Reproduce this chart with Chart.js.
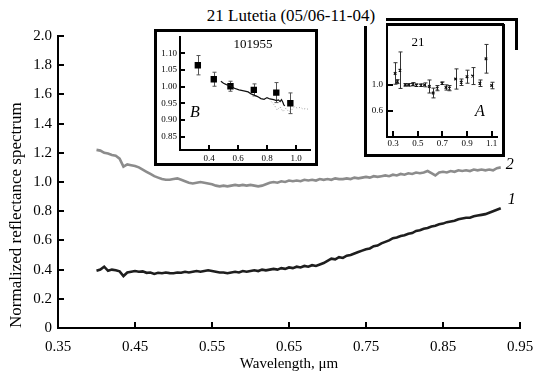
<!DOCTYPE html>
<html>
<head>
<meta charset="utf-8">
<script src="https://cdn.jsdelivr.net/npm/chart.js@4.4.1/dist/chart.umd.min.js"></script>
<style>
    body { margin: 0; background: #fff; }
    #wrap { position: relative; width: 534px; height: 377px; overflow: hidden; }
    canvas { position: absolute; display: block; }
    .line { position: absolute; border: 0 solid #000; }
    #title {
        position: absolute; left: 196px; top: 6px; width: 190px; height: 20px;
        line-height: 20px; text-align: center; background: #fff; z-index: 5;
        font: 17px "Liberation Serif", serif; color: #000; white-space: nowrap;
    }
</style>
</head>
<body>
<div id="wrap">
    <canvas id="mainChart" width="534" height="377" style="left:0;top:0"></canvas>

    <!-- inset B frame -->
    <div class="line" style="left:154px;top:29px;width:158px;height:131px;border-width:3px;background:#fff"></div>
    <canvas id="insetB" width="158" height="131" style="left:157px;top:32px"></canvas>

    <!-- inset A frames -->
    <div class="line" style="left:386px;top:18px;width:129px;height:29px;border-top-width:3px;border-right-width:3px"></div>
    <div class="line" style="left:364px;top:24px;width:135px;height:130px;border-left-width:3px;border-right-width:3px;border-bottom-width:3px;background:#fff"></div>
    <div class="line" style="left:386px;top:23px;width:118px;height:0;border-top-width:3px"></div>
    <canvas id="insetA" width="136" height="133" style="left:367px;top:21px"></canvas>

    <div id="title">21 Lutetia (05/06-11-04)</div>
</div>

<script>
// ---- main spectra (Lutetia) ----
const wavelength = [
    0.400, 0.405, 0.410, 0.415, 0.420, 0.425, 0.430, 0.435, 0.440, 0.445,
    0.450, 0.455, 0.460, 0.465, 0.470, 0.475, 0.480, 0.485, 0.490, 0.495,
    0.500, 0.505, 0.510, 0.515, 0.520, 0.525, 0.530, 0.535, 0.540, 0.545,
    0.550, 0.555, 0.560, 0.565, 0.570, 0.575, 0.580, 0.585, 0.590, 0.595,
    0.600, 0.605, 0.610, 0.615, 0.620, 0.625, 0.630, 0.635, 0.640, 0.645,
    0.650, 0.655, 0.660, 0.665, 0.670, 0.675, 0.680, 0.685, 0.690, 0.695,
    0.700, 0.705, 0.710, 0.715, 0.720, 0.725, 0.730, 0.735, 0.740, 0.745,
    0.750, 0.755, 0.760, 0.765, 0.770, 0.775, 0.780, 0.785, 0.790, 0.795,
    0.800, 0.805, 0.810, 0.815, 0.820, 0.825, 0.830, 0.835, 0.840, 0.845,
    0.850, 0.855, 0.860, 0.865, 0.870, 0.875, 0.880, 0.885, 0.890, 0.895,
    0.900, 0.905, 0.910, 0.915, 0.920, 0.925,
]
const spectrum1 = [
    0.392, 0.400, 0.420, 0.392, 0.400, 0.395, 0.388, 0.356, 0.380, 0.385,
    0.390, 0.385, 0.388, 0.378, 0.380, 0.370, 0.378, 0.375, 0.380, 0.376,
    0.375, 0.380, 0.378, 0.385, 0.380, 0.385, 0.390, 0.385, 0.390, 0.395,
    0.390, 0.385, 0.380, 0.380, 0.375, 0.380, 0.385, 0.380, 0.390, 0.385,
    0.390, 0.395, 0.390, 0.400, 0.395, 0.400, 0.405, 0.400, 0.410, 0.405,
    0.415, 0.410, 0.420, 0.415, 0.425, 0.420, 0.430, 0.425, 0.435, 0.445,
    0.460, 0.475, 0.470, 0.485, 0.480, 0.495, 0.500, 0.510, 0.520, 0.530,
    0.540, 0.545, 0.560, 0.565, 0.580, 0.590, 0.600, 0.615, 0.620, 0.630,
    0.635, 0.645, 0.650, 0.665, 0.670, 0.680, 0.685, 0.695, 0.700, 0.710,
    0.715, 0.725, 0.730, 0.735, 0.745, 0.750, 0.755, 0.755, 0.765, 0.770,
    0.775, 0.780, 0.790, 0.800, 0.810, 0.820,
]
const spectrum2 = [
    1.220, 1.215, 1.200, 1.195, 1.185, 1.180, 1.160, 1.105, 1.120, 1.115,
    1.110, 1.100, 1.085, 1.070, 1.055, 1.040, 1.030, 1.020, 1.015, 1.015,
    1.020, 1.025, 1.015, 1.005, 0.995, 0.990, 0.995, 1.000, 0.995, 0.990,
    0.985, 0.975, 0.970, 0.975, 0.970, 0.975, 0.980, 0.975, 0.980, 0.975,
    0.980, 0.975, 0.970, 0.975, 0.985, 0.995, 1.000, 0.995, 1.005, 1.000,
    1.010, 1.005, 1.010, 1.005, 1.015, 1.010, 1.015, 1.010, 1.020, 1.015,
    1.020, 1.015, 1.025, 1.020, 1.020, 1.025, 1.020, 1.030, 1.025, 1.030,
    1.035, 1.030, 1.040, 1.035, 1.040, 1.045, 1.040, 1.050, 1.045, 1.055,
    1.050, 1.060, 1.055, 1.065, 1.060, 1.065, 1.075, 1.060, 1.045, 1.065,
    1.070, 1.065, 1.075, 1.070, 1.080, 1.075, 1.080, 1.075, 1.085, 1.080,
    1.085, 1.080, 1.085, 1.080, 1.095, 1.100,
]
const xTicks = [0.35, 0.45, 0.55, 0.65, 0.75, 0.85, 0.95]
const yTicks = [0, 0.2, 0.4, 0.6, 0.8, 1.0, 1.2, 1.4, 1.6, 1.8, 2.0]

// ---- inset B: asteroid 101955 ----
const bWave = [0.323, 0.433, 0.548, 0.709, 0.864, 0.961]
const bRefl = [1.064, 1.022, 1.001, 0.990, 0.982, 0.950]
const bErr = [0.029, 0.021, 0.015, 0.018, 0.030, 0.031]
const bLineWave = [0.482, 0.50, 0.52, 0.548, 0.575, 0.607, 0.64, 0.67, 0.69, 0.714, 0.735, 0.758, 0.78, 0.80, 0.82, 0.846, 0.865, 0.879, 0.89, 0.90, 0.91, 0.916, 0.923]
const bLineRefl = [1.016, 1.010, 1.006, 1.003, 0.995, 0.990, 0.987, 0.984, 0.978, 0.974, 0.970, 0.964, 0.962, 0.967, 0.963, 0.961, 0.958, 0.960, 0.955, 0.961, 0.952, 0.945, 0.942]
const bDotWave = [0.83, 0.85, 0.87, 0.89, 0.91, 0.93, 0.95, 0.97, 0.99, 1.01, 1.03, 1.05, 1.07, 1.09]
const bDotRefl = [0.955, 0.945, 0.930, 0.940, 0.925, 0.935, 0.925, 0.930, 0.940, 0.935, 0.938, 0.932, 0.935, 0.930]
const bXTicks = [0.4, 0.6, 0.8, 1.0]
const bYTicks = [0.85, 0.90, 0.95, 1.00, 1.05, 1.10]

// ---- inset A: asteroid 21 ----
const aWave = [0.316, 0.334, 0.355, 0.399, 0.425, 0.458, 0.489, 0.524, 0.555, 0.594, 0.625, 0.658, 0.697, 0.729, 0.757, 0.807, 0.853, 0.900, 0.945, 1.004, 1.054, 1.100]
const aRefl = [1.175, 1.05, 1.225, 1.0, 1.0, 1.01, 0.995, 0.995, 1.0, 0.975, 0.875, 0.95, 1.025, 0.96, 0.95, 1.09, 1.04, 1.125, 1.135, 1.025, 1.40, 0.99]
const aErr = [0.165, 0.03, 0.28, 0.02, 0.02, 0.025, 0.02, 0.02, 0.03, 0.10, 0.075, 0.04, 0.02, 0.04, 0.04, 0.155, 0.05, 0.10, 0.13, 0.05, 0.22, 0.05]
const aXTicks = [0.3, 0.5, 0.7, 0.9, 1.1]
const aYTicks = [0.6, 1.0]

Chart.defaults.font.family = '"Liberation Serif", "Times New Roman", serif'
Chart.defaults.color = "#000"

const toPoints = (xs, ys) => xs.map((x, i) => ({ x: x, y: ys[i] }))
const fixTicks = (values) => (scale) => {
    scale.ticks = values.map((v) => ({ value: v }))
}
const zeroPadding = (scale) => {
    scale.paddingTop = 0
    scale.paddingBottom = 0
    scale.paddingLeft = 0
    scale.paddingRight = 0
}

// ticks pointing into the plot area
const innerTicks = {
    id: "innerTicks",
    afterDraw(chart, args, opts) {
        const { ctx, chartArea, scales } = chart
        const len = opts.length || 5
        ctx.save()
        ctx.strokeStyle = "#000"
        ctx.lineWidth = opts.width || 2
        scales.x.ticks.forEach((t) => {
            const px = Math.round(scales.x.getPixelForValue(t.value))
            ctx.beginPath()
            ctx.moveTo(px, chartArea.bottom)
            ctx.lineTo(px, chartArea.bottom - len)
            ctx.stroke()
        })
        scales.y.ticks.forEach((t) => {
            const py = Math.round(scales.y.getPixelForValue(t.value))
            ctx.beginPath()
            ctx.moveTo(chartArea.left, py)
            ctx.lineTo(chartArea.left + len, py)
            ctx.stroke()
        })
        ctx.restore()
    },
}

const errorBars = {
    id: "errorBars",
    beforeDatasetsDraw(chart) {
        const { ctx, scales } = chart
        chart.data.datasets.forEach((ds) => {
            if (!ds.errors) return
            ctx.save()
            ctx.strokeStyle = ds.errorColor || "#444"
            ctx.lineWidth = 1
            ds.data.forEach((p, i) => {
                const px = Math.round(scales.x.getPixelForValue(p.x)) + 0.5
                const top = scales.y.getPixelForValue(p.y + ds.errors[i])
                const bottom = scales.y.getPixelForValue(p.y - ds.errors[i])
                ctx.beginPath()
                ctx.moveTo(px, top)
                ctx.lineTo(px, bottom)
                ctx.moveTo(px - 2, top)
                ctx.lineTo(px + 2, top)
                ctx.moveTo(px - 2, bottom)
                ctx.lineTo(px + 2, bottom)
                ctx.stroke()
            })
            ctx.restore()
        })
    },
}

// free text inside a chart, canvas pixel positions
const textMarks = {
    id: "textMarks",
    afterDraw(chart, args, opts) {
        if (!opts.items) return
        const { ctx } = chart
        ctx.save()
        ctx.fillStyle = "#000"
        ctx.textAlign = "center"
        ctx.textBaseline = "middle"
        opts.items.forEach((item) => {
            ctx.font = item.font
            ctx.fillText(item.text, item.x, item.y)
        })
        ctx.restore()
    },
}

// curve numbers at the red end of each spectrum
const curveLabels = {
    id: "curveLabels",
    afterDatasetsDraw(chart) {
        const { ctx } = chart
        ctx.save()
        ctx.fillStyle = "#000"
        ctx.font = 'italic 16px "Liberation Serif", serif'
        ctx.textBaseline = "middle"
        chart.data.datasets.forEach((ds, i) => {
            const meta = chart.getDatasetMeta(i)
            const last = meta.data[meta.data.length - 1]
            ctx.fillText(ds.label, last.x + ds.labelDx, last.y + ds.labelDy)
        })
        ctx.restore()
    },
}

new Chart(document.getElementById("mainChart"), {
    type: "line",
    data: {
        datasets: [
            {
                label: "2",
                data: toPoints(wavelength, spectrum2),
                borderColor: "#8c8c8c",
                borderWidth: 2.6,
                pointRadius: 0,
                labelDx: 5,
                labelDy: -3,
            },
            {
                label: "1",
                data: toPoints(wavelength, spectrum1),
                borderColor: "#1e1e1e",
                borderWidth: 2.6,
                pointRadius: 0,
                labelDx: 7,
                labelDy: -8,
            },
        ],
    },
    options: {
        responsive: false,
        animation: false,
        layout: { padding: { top: 36, right: 14, left: 0, bottom: 0 } },
        plugins: {
            legend: { display: false },
            tooltip: { enabled: false },
            innerTicks: { length: 6, width: 2 },
        },
        scales: {
            x: {
                type: "linear",
                min: 0.35,
                max: 0.95,
                afterBuildTicks: fixTicks(xTicks),
                afterFit: (s) => {
                    s.height = 49
                    zeroPadding(s)
                },
                grid: { display: false, drawTicks: false },
                border: { display: true, color: "#000", width: 2 },
                ticks: {
                    font: { size: 15 },
                    padding: 10,
                    maxRotation: 0,
                    autoSkip: false,
                    callback: (v) => v.toFixed(2),
                },
                title: {
                    display: true,
                    text: "Wavelength, μm",
                    font: { size: 15 },
                    padding: { top: 0, bottom: 4 },
                },
            },
            y: {
                min: 0,
                max: 2,
                afterBuildTicks: fixTicks(yTicks),
                afterFit: (s) => {
                    s.width = 58
                    zeroPadding(s)
                },
                grid: { display: false, drawTicks: false },
                border: { display: true, color: "#000", width: 2 },
                ticks: {
                    font: { size: 15 },
                    padding: 6,
                    autoSkip: false,
                    callback: (v) => (v === 0 ? "0" : v.toFixed(1)),
                },
                title: {
                    display: true,
                    text: "Normalized reflectance spectrum",
                    align: "start",
                    font: { size: 17 },
                    padding: { top: 6, bottom: 0 },
                },
            },
        },
    },
    plugins: [innerTicks, curveLabels],
})

new Chart(document.getElementById("insetB"), {
    type: "scatter",
    data: {
        datasets: [
            {
                data: toPoints(bDotWave, bDotRefl),
                showLine: true,
                borderColor: "#9a9a9a",
                borderWidth: 1,
                borderDash: [1, 2],
                pointRadius: 0,
            },
            {
                data: toPoints(bLineWave, bLineRefl),
                showLine: true,
                borderColor: "#111",
                borderWidth: 1.2,
                pointRadius: 0,
            },
            {
                data: toPoints(bWave, bRefl),
                errors: bErr,
                errorColor: "#555",
                pointStyle: "rect",
                pointRadius: 4.5,
                backgroundColor: "#000",
                borderColor: "#000",
                borderWidth: 0,
            },
        ],
    },
    options: {
        responsive: false,
        animation: false,
        layout: { padding: { top: 1, right: 0, left: 0, bottom: 0 } },
        plugins: {
            legend: { display: false },
            tooltip: { enabled: false },
            innerTicks: { length: 5, width: 2 },
            textMarks: {
                items: [
                    { text: "101955", x: 96, y: 13, font: '13px "Liberation Serif", serif' },
                    { text: "B", x: 38, y: 81, font: 'italic 16px "Liberation Serif", serif' },
                ],
            },
        },
        scales: {
            x: {
                type: "linear",
                min: 0.2,
                max: 1.1,
                afterBuildTicks: fixTicks(bXTicks),
                afterFit: (s) => {
                    s.height = 13
                    zeroPadding(s)
                },
                grid: { display: false, drawTicks: false },
                border: { display: true, color: "#000", width: 2 },
                ticks: { font: { size: 9 }, padding: 3, maxRotation: 0, autoSkip: false, callback: (v) => v.toFixed(1) },
            },
            y: {
                min: 0.81,
                max: 1.15,
                afterBuildTicks: fixTicks(bYTicks),
                afterFit: (s) => {
                    s.width = 23
                    zeroPadding(s)
                },
                grid: { display: false, drawTicks: false },
                border: { display: true, color: "#000", width: 2 },
                ticks: { font: { size: 9 }, padding: 3, autoSkip: false, callback: (v) => v.toFixed(2) },
            },
        },
    },
    plugins: [errorBars, innerTicks, textMarks],
})

new Chart(document.getElementById("insetA"), {
    type: "scatter",
    data: {
        datasets: [
            {
                data: toPoints(aWave, aRefl),
                errors: aErr,
                errorColor: "#333",
                pointStyle: "crossRot",
                pointRadius: 1.8,
                borderColor: "#111",
                borderWidth: 1.2,
            },
        ],
    },
    options: {
        responsive: false,
        animation: false,
        layout: { padding: { top: 3, right: 0, left: 0, bottom: 0 } },
        plugins: {
            legend: { display: false },
            tooltip: { enabled: false },
            innerTicks: { length: 6, width: 2 },
            textMarks: {
                items: [
                    { text: "21", x: 51, y: 22, font: '13px "Liberation Serif", serif' },
                    { text: "A", x: 113, y: 91, font: 'italic 16px "Liberation Serif", serif' },
                ],
            },
        },
        scales: {
            x: {
                type: "linear",
                min: 0.25,
                max: 1.15,
                afterBuildTicks: fixTicks(aXTicks),
                afterFit: (s) => {
                    s.height = 17
                    zeroPadding(s)
                },
                grid: { display: false, drawTicks: false },
                border: { display: true, color: "#000", width: 2 },
                ticks: { font: { size: 9 }, padding: 1, maxRotation: 0, autoSkip: false, callback: (v) => v.toFixed(1) },
            },
            y: {
                min: 0.2,
                max: 1.9,
                afterBuildTicks: fixTicks(aYTicks),
                afterFit: (s) => {
                    s.width = 20
                    zeroPadding(s)
                },
                grid: { display: false, drawTicks: false },
                border: { display: true, color: "#000", width: 2 },
                ticks: { font: { size: 9 }, padding: 4, autoSkip: false, callback: (v) => v.toFixed(1) },
            },
        },
    },
    plugins: [errorBars, innerTicks, textMarks],
})
</script>
</body>
</html>
